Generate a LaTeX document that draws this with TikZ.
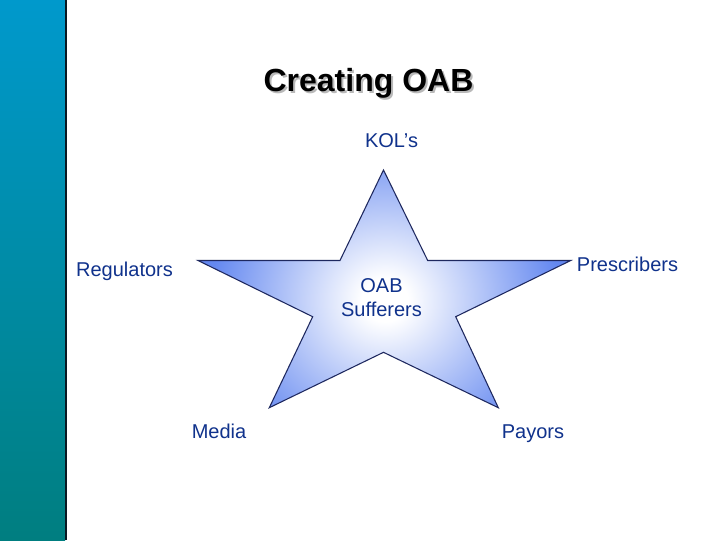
\documentclass[tikz,border=0pt]{standalone}
\usepackage{fontspec}
\setmainfont{Liberation Sans}
\definecolor{barTop}{RGB}{0,153,204}
\definecolor{barBot}{RGB}{0,126,128}
\definecolor{barEdge}{RGB}{10,25,35}
\definecolor{labelBlue}{RGB}{16,50,140}
\definecolor{starBlue}{RGB}{100,136,240}
\definecolor{starEdge}{RGB}{30,40,95}
\definecolor{shadowGray}{RGB}{185,185,185}
\pgfdeclareradialshading{starshade}{\pgfpoint{0bp}{0bp}}{color(0bp)=(white);color(3bp)=(white);color(23bp)=(starBlue);color(50bp)=(starBlue)}
\tikzset{
  lbl/.style={font=\fontsize{15}{18}\selectfont, text=labelBlue, inner sep=0pt},
  ttl/.style={font=\fontsize{24}{28}\selectfont\bfseries, inner sep=0pt, anchor=base},
}
\begin{document}
\begin{tikzpicture}[x=0.75pt,y=-0.75pt]
\useasboundingbox (0,0) rectangle (720,540);
\fill[white] (0,0) rectangle (720,540);
% left bar
\shade[top color=barTop, bottom color=barBot] (0,0) rectangle (65,540);
\draw[barEdge, line width=1.5pt] (65.5,0) -- (65.5,540);
% star
\coordinate (p1) at (383.5,170);
\coordinate (p2) at (427.7,260.5);
\coordinate (p3) at (570.7,260.5);
\coordinate (p4) at (455.7,316.7);
\coordinate (p5) at (498.3,407.7);
\coordinate (p6) at (383.5,352.3);
\coordinate (p7) at (269.3,407.7);
\coordinate (p8) at (312.7,316.7);
\coordinate (p9) at (198,260.5);
\coordinate (p10) at (340,260.5);
\begin{scope}
\clip (p1) -- (p2) -- (p3) -- (p4) -- (p5) -- (p6) -- (p7) -- (p8) -- (p9) -- (p10) -- cycle;
\shade[shading=starshade] (195,120) rectangle (575,480);
\end{scope}
\draw[starEdge, line width=0.8pt, line join=miter] (p1) -- (p2) -- (p3) -- (p4) -- (p5) -- (p6) -- (p7) -- (p8) -- (p9) -- (p10) -- cycle;
% title
\node[ttl, text=shadowGray] (titleshadow) at (370.5,93) {Creating OAB};
\node[ttl, text=black] (title) at (368.5,91) {Creating OAB};
% labels
\node[lbl, anchor=base] (kol) at (391.5,147.3) {KOL’s};
\node[lbl, anchor=base] (reg) at (124.5,276.7) {Regulators};
\node[lbl, anchor=base] (pres) at (627.5,271.7) {Prescribers};
\node[lbl, anchor=north, align=center] (oab) at (381.5,278.3) {OAB\\Sufferers};
\node[lbl, anchor=base] (media) at (219,438) {Media};
\node[lbl, anchor=base] (payors) at (533,438) {Payors};
\end{tikzpicture}
\end{document}
